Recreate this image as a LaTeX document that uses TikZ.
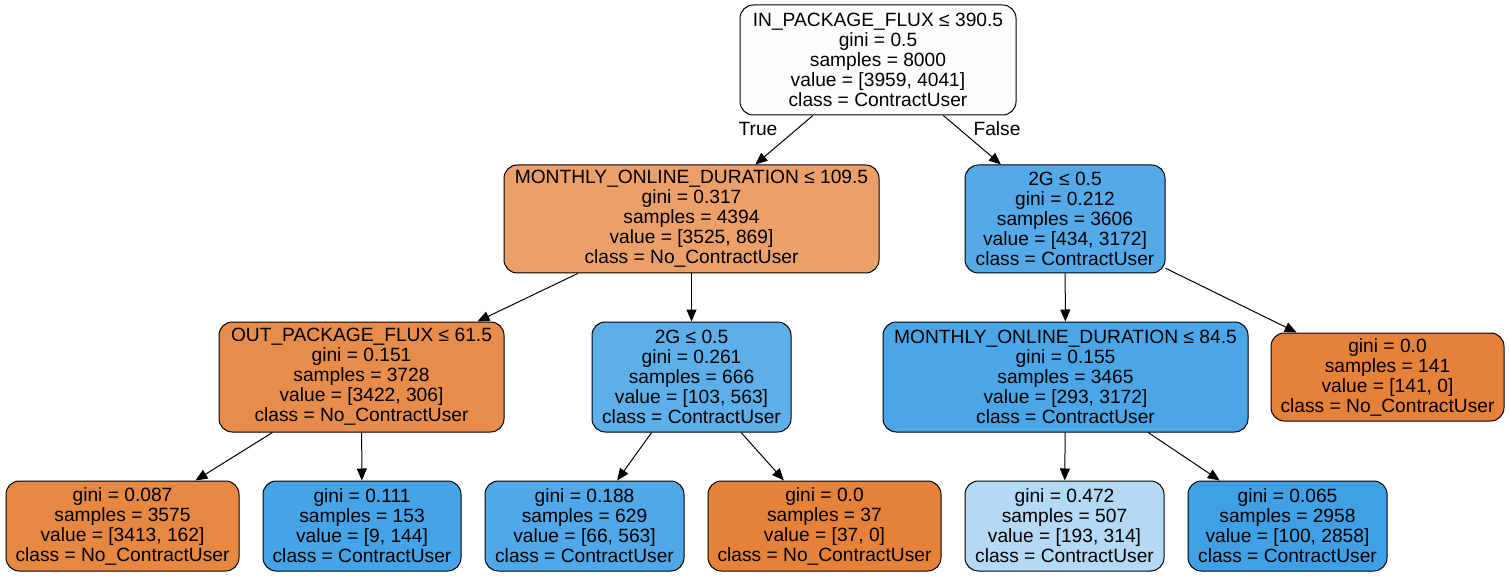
\documentclass[tikz,border=0pt]{standalone}
\usepackage{fontspec}
\setmainfont{Liberation Sans}
\usetikzlibrary{arrows.meta}
\definecolor{rootfill}{HTML}{FBFDFE}
\definecolor{orngA}{HTML}{EBA06A}
\definecolor{orngB}{HTML}{E78C4B}
\definecolor{orngC}{HTML}{E68742}
\definecolor{orngD}{HTML}{E58139}
\definecolor{blueA}{HTML}{54AAE9}
\definecolor{blueB}{HTML}{5DAFEA}
\definecolor{blueC}{HTML}{4BA6E7}
\definecolor{blueD}{HTML}{45A3E7}
\definecolor{blueE}{HTML}{50A8E8}
\definecolor{blueF}{HTML}{B3D9F5}
\definecolor{blueG}{HTML}{40A0E6}
\begin{document}
\begin{tikzpicture}[x=0.75pt,y=-0.75pt,
        every node/.style={font=\fontsize{14.4}{15}\selectfont},
        treenode/.style={draw,rounded corners=10pt,align=center,inner sep=0pt,line width=0.75pt,minimum height=82.5pt},
        leafnode/.style={treenode,minimum height=67.5pt},
        branch/.style={-{Triangle[length=9pt,width=7.5pt]},line width=0.75pt}]
                \useasboundingbox (0,0) rectangle (1509,577);
                % level 0
                \node[treenode,fill=rootfill,minimum width=207pt] (root) at (878,60) {IN\_PACKAGE\_FLUX ≤ 390.5\\gini = 0.5\\samples = 8000\\value = [3959, 4041]\\class = ContractUser};
                % level 1
                \node[treenode,fill=orngA,minimum width=281.25pt,minimum height=81pt] (mdur) at (691.5,219) {MONTHLY\_ONLINE\_DURATION ≤ 109.5\\gini = 0.317\\samples = 4394\\value = [3525, 869]\\class = No\_ContractUser};
                \node[treenode,fill=blueA,minimum width=150pt,minimum height=81pt] (twog) at (1065,219) {2G ≤ 0.5\\gini = 0.212\\samples = 3606\\value = [434, 3172]\\class = ContractUser};
                % level 2
                \node[treenode,fill=orngB,minimum width=213.75pt] (outflux) at (361.5,377) {OUT\_PACKAGE\_FLUX ≤ 61.5\\gini = 0.151\\samples = 3728\\value = [3422, 306]\\class = No\_ContractUser};
                \node[treenode,fill=blueB,minimum width=149.25pt] (twogb) at (691.5,377) {2G ≤ 0.5\\gini = 0.261\\samples = 666\\value = [103, 563]\\class = ContractUser};
                \node[treenode,fill=blueC,minimum width=273.75pt] (mdurb) at (1065.5,377) {MONTHLY\_ONLINE\_DURATION ≤ 84.5\\gini = 0.155\\samples = 3465\\value = [293, 3172]\\class = ContractUser};
                \node[leafnode,fill=orngD,minimum width=174.75pt,minimum height=66pt] (leafg) at (1387.5,377) {gini = 0.0\\samples = 141\\value = [141, 0]\\class = No\_ContractUser};
                % level 3
                \node[leafnode,fill=orngC,minimum width=174.75pt] (leafa) at (122.5,526) {gini = 0.087\\samples = 3575\\value = [3413, 162]\\class = No\_ContractUser};
                \node[leafnode,fill=blueD,minimum width=148.5pt] (leafb) at (362,526) {gini = 0.111\\samples = 153\\value = [9, 144]\\class = ContractUser};
                \node[leafnode,fill=blueE,minimum width=149.25pt] (leafc) at (584.5,526) {gini = 0.188\\samples = 629\\value = [66, 563]\\class = ContractUser};
                \node[leafnode,fill=orngD,minimum width=174.75pt] (leafd) at (824.5,526) {gini = 0.0\\samples = 37\\value = [37, 0]\\class = No\_ContractUser};
                \node[leafnode,fill=blueF,minimum width=149.25pt] (leafe) at (1064.5,526) {gini = 0.472\\samples = 507\\value = [193, 314]\\class = ContractUser};
                \node[leafnode,fill=blueG,minimum width=149.25pt] (leaff) at (1287.5,526) {gini = 0.065\\samples = 2958\\value = [100, 2858]\\class = ContractUser};
                % edges
                \draw[branch] (root) -- (mdur);
                \draw[branch] (root) -- (twog);
                \node (lbltrue) at (758,129) {True};
                \node (lblfalse) at (997,129) {False};
                \draw[branch] (mdur) -- (outflux);
                \draw[branch] (mdur) -- (twogb);
                \draw[branch] (twog) -- (mdurb);
                \draw[branch] (twog) -- (leafg);
                \draw[branch] (outflux) -- (leafa);
                \draw[branch] (outflux) -- (leafb);
                \draw[branch] (twogb) -- (leafc);
                \draw[branch] (twogb) -- (leafd);
                \draw[branch] (mdurb) -- (leafe);
                \draw[branch] (mdurb) -- (leaff);
            \end{tikzpicture}
\end{document}
